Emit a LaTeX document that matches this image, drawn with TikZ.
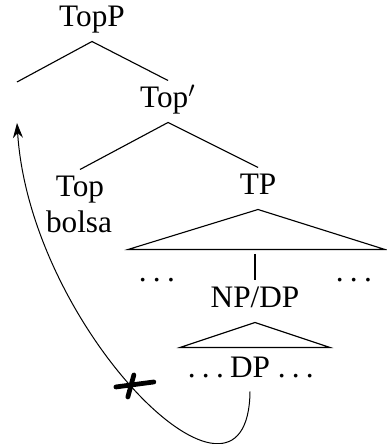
\documentclass[tikz,border=0pt]{standalone}
\usepackage{fontspec}
\setmainfont{Liberation Serif}
\usetikzlibrary{arrows.meta}
\newcommand{\lds}{.\kern0.2em.\kern0.2em.\kern0.2em}
\begin{document}
\begin{tikzpicture}[x=0.4pt, y=-0.4pt, font=\fontsize{12.5}{15}\selectfont]
      \tikzset{
	  cat/.style={inner sep=2pt, text height=8.8pt, text depth=3.6pt, anchor=base},
	  branch/.style={line width=0.45pt},
	  move/.style={line width=0.4pt, -{Stealth[length=6pt, width=4pt, inset=2pt]}},
	  blocked/.style={line width=1.9pt, line cap=round}
      }
      \useasboundingbox (0,0) rectangle (386,444);

      \node[cat] (topp) at (92,27) {TopP};
      \coordinate (spec) at (17,82);
      \node[cat] (topbar) at (168,108) {Top$'$};
      \node[cat] (top) at (80,197) {Top};
      \node[cat] (bolsa) at (79,233) {bolsa};
      \node[cat] (tp) at (258,195) {TP};
      \coordinate (roofl) at (128,249.5);
      \coordinate (roofr) at (385,249.5);
      \coordinate (roofm) at (255,254);
      \node[cat] (ldots) at (160,281.5) {\lds};
      \node[cat] (rdots) at (357,281.5) {\lds};
      \node[cat] (npdp) at (255,308) {NP/DP};
      \coordinate (subl) at (180,347.5);
      \coordinate (subr) at (330,347.5);
      \node[cat] (ddp) at (254,377) {\lds DP \lds};
      \coordinate (landing) at (17,123);

      \draw[branch] (spec) -- (topp.south) -- (topbar.north);
      \draw[branch] (top.north) -- (topbar.south) -- (tp.north);
      \draw[branch] (roofl) -- (tp.south) -- (roofr) -- cycle;
      \draw[branch] (roofm) -- (npdp.north);
      \draw[branch] (subl) -- (npdp.south) -- (subr) -- cycle;

      \draw[move] ([xshift=-1.6pt]ddp.south) .. controls (248,545) and (30,330) .. (landing) coordinate[pos=0.52] (cut);
      \draw[blocked] ([shift={(-15,2)}]cut) -- ([shift={(23,-3)}]cut);
      \draw[blocked] ([shift={(-3,12)}]cut) -- ([shift={(3,-10)}]cut);
    \end{tikzpicture}
\end{document}
